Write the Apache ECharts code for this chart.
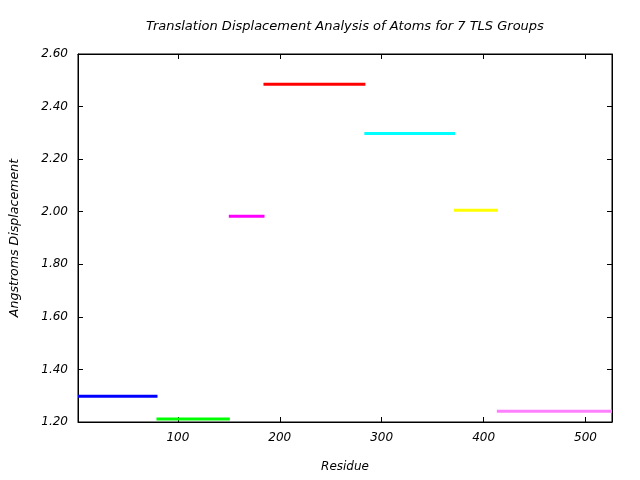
<!DOCTYPE html>
<html><head><meta charset="utf-8">
<script src="https://cdn.jsdelivr.net/npm/echarts@6/dist/echarts.min.js"></script>
<style>html,body{margin:0;padding:0;background:#fff}#c{width:640px;height:480px}</style>
</head><body><div id="c"></div>
<script>
var groupStart = [2, 79, 150, 184, 283, 371, 413];
var groupEnd   = [80, 151, 185, 284, 372, 414, 526];
var displacement = [1.298, 1.211, 1.983, 2.485, 2.298, 2.006, 1.241];
var colors = ['#0000ff', '#00ff00', '#ff00ff', '#ff0000', '#00ffff', '#ffff00', '#ff80ff'];
var xTicks = [100, 200, 300, 400, 500];

var font = 'DejaVu Sans';
var series = groupStart.map(function (s, i) {
  return {
    type: 'line', xAxisIndex: 0, yAxisIndex: 0,
    data: [[s, displacement[i]], [groupEnd[i], displacement[i]]],
    showSymbol: false, symbol: 'none', silent: true, animation: false,
    lineStyle: { color: colors[i], width: 3, cap: 'butt' }
  };
});
var chart = echarts.init(document.getElementById('c'));
chart.setOption({
  animation: false,
  backgroundColor: '#fff',
  title: {
    text: 'Translation Displacement Analysis of Atoms for 7 TLS Groups',
    left: 146, top: 20, padding: 0,
    textStyle: { fontFamily: font, fontStyle: 'italic', fontWeight: 'normal', fontSize: 13, color: '#000' }
  },
  grid: { left: 76, right: 28, top: 54, bottom: 58, show: true, borderColor: '#000', borderWidth: 1 },
  xAxis: [{
    type: 'value', min: 2, max: 526, position: 'bottom',
    name: 'Residue', nameLocation: 'middle', nameGap: 39,
    nameTextStyle: { fontFamily: font, fontStyle: 'italic', fontSize: 12, color: '#000' },
    axisLine: { show: true, lineStyle: { color: '#000', width: 1 } },
    axisTick: { show: true, inside: true, length: 5, customValues: xTicks, lineStyle: { color: '#000' } },
    axisLabel: { customValues: xTicks, margin: 10, fontFamily: font, fontStyle: 'italic', fontSize: 12, color: '#000' },
    splitLine: { show: false }
  }, {
    type: 'value', min: 2, max: 526, position: 'top',
    axisLine: { show: true, lineStyle: { color: '#000', width: 1 } },
    axisTick: { show: true, inside: true, length: 5, customValues: xTicks, lineStyle: { color: '#000' } },
    axisLabel: { show: false }, splitLine: { show: false }
  }],
  yAxis: [{
    type: 'value', min: 1.2, max: 2.6, interval: 0.2, position: 'left',
    name: 'Angstroms Displacement', nameLocation: 'middle', nameGap: 57,
    nameTextStyle: { fontFamily: font, fontStyle: 'italic', fontSize: 12.6, color: '#000' },
    axisLine: { show: true, lineStyle: { color: '#000', width: 1 } },
    axisTick: { show: true, inside: true, length: 5, lineStyle: { color: '#000' } },
    axisLabel: { margin: 10, fontFamily: font, fontStyle: 'italic', fontSize: 12, color: '#000',
      formatter: function (v) { return v.toFixed(2); } },
    splitLine: { show: false }
  }, {
    type: 'value', min: 1.2, max: 2.6, interval: 0.2, position: 'right',
    axisLine: { show: true, lineStyle: { color: '#000', width: 1 } },
    axisTick: { show: true, inside: true, length: 5, lineStyle: { color: '#000' } },
    axisLabel: { show: false }, splitLine: { show: false }
  }],
  series: series
});
</script></body></html>
